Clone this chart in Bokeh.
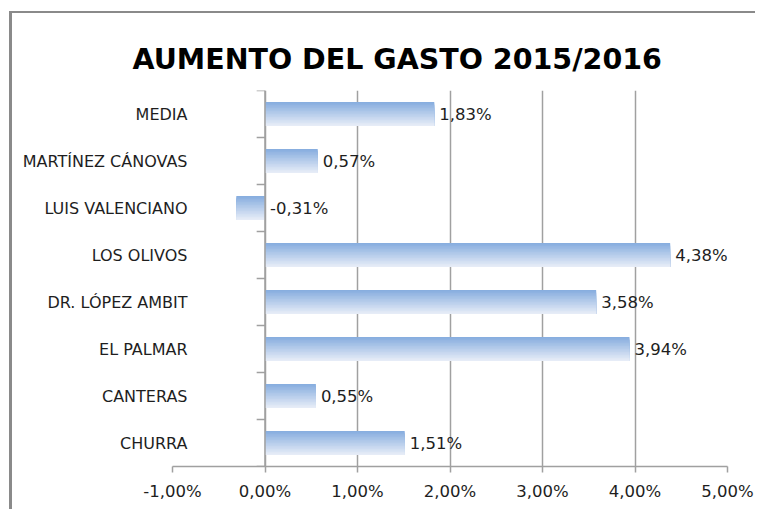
from bokeh.plotting import figure
from bokeh.models import ColumnDataSource, FixedTicker, LabelSet
from bokeh.core.properties import value
from bokeh.embed import file_html
from bokeh.resources import INLINE

# ---- data ----
categories = ["CHURRA", "CANTERAS", "EL PALMAR", "DR. LÓPEZ AMBIT",
              "LOS OLIVOS", "LUIS VALENCIANO", "MARTÍNEZ CÁNOVAS", "MEDIA"]
values = [1.51, 0.55, 3.94, 3.58, 4.38, -0.31, 0.57, 1.83]
value_labels = ["1,51%", "0,55%", "3,94%", "3,58%", "4,38%", "-0,31%", "0,57%", "1,83%"]
x_ticks = [-1, 0, 1, 2, 3, 4, 5]
x_tick_labels = ["-1,00%", "0,00%", "1,00%", "2,00%", "3,00%", "4,00%", "5,00%"]
title_text = "AUMENTO DEL GASTO 2015/2016"

FONT = "DejaVu Sans"
TXT = "#1e1e1e"
GRID = "#a0a0a0"
TOP_C = (0x88, 0xAE, 0xDF)
BOT_C = (0xE6, 0xEC, 0xF7)
N_STRIPS = 16
BAR_H = 0.51

n = len(categories)
ypos = list(range(n))

# gradient: stacked strips, each reaching down to the bar bottom
sy, sh, sr, sc = [], [], [], []
for j in range(N_STRIPS):
    t = j / (N_STRIPS - 1)
    col = "#%02x%02x%02x" % tuple(int(round(a + (b - a) * t)) for a, b in zip(TOP_C, BOT_C))
    hj = BAR_H * (1 - j / N_STRIPS)
    for i, v in enumerate(values):
        bottom = ypos[i] - BAR_H / 2
        sy.append(bottom + hj / 2)
        sh.append(hj)
        sr.append(v)
        sc.append(col)
strips = ColumnDataSource(dict(y=sy, h=sh, right=sr, color=sc))

lab_src = ColumnDataSource(dict(
    x=[max(v, 0) for v in values], y=ypos, text=value_labels))

p = figure(frame_width=555, frame_height=376, output_backend="svg", toolbar_location=None,
           x_range=(x_ticks[0], x_ticks[-1]), y_range=(-0.5, n - 0.5),
           min_border_left=160, min_border_top=77, min_border_right=28,
           min_border_bottom=43)
p.styles = {"border-left": "3px solid #8a8a8a", "border-top": "2px solid #8a8a8a",
            "border-right": "none", "border-bottom": "none",
            "margin-left": "9px", "margin-top": "11px"}

p.title.text = title_text
p.title.text_font = FONT
p.title.text_font_size = "28.5px"
p.title.text_font_style = "bold"
p.title.text_color = "#000000"
p.title.align = "left"
p.title.offset = -40
p.title.standoff = 30

p.outline_line_color = None
p.background_fill_color = "white"
p.border_fill_color = "white"

# bars
p.hbar(y="y", left=0, right="right", height="h",
       fill_color="color", line_color=None, source=strips)

# category axis line and tick marks at x = 0
p.segment(x0=[0], y0=[-0.5], x1=[0], y1=[n - 0.5], line_color=GRID, line_width=1.5)
bounds = [k - 0.5 for k in range(n + 1)]
p.segment(x0=[-0.09] * len(bounds), y0=bounds, x1=[0] * len(bounds), y1=bounds,
          line_color=GRID, line_width=1.5)

labels = LabelSet(x="x", y="y", text="text", source=lab_src, x_offset=5,
                  text_baseline="middle", text_font=value(FONT),
                  text_font_size=value("16.5px"), text_color=value(TXT))
p.add_layout(labels)

# x axis
p.xaxis.ticker = FixedTicker(ticks=x_ticks)
p.xaxis.major_label_overrides = {t: l for t, l in zip(x_ticks, x_tick_labels)}
p.xaxis.axis_line_color = GRID
p.xaxis.axis_line_width = 1.5
p.xaxis.major_tick_line_color = GRID
p.xaxis.major_tick_line_width = 1.5
p.xaxis.major_tick_out = 6
p.xaxis.major_tick_in = 0
p.xaxis.minor_tick_line_color = None
p.xaxis.major_label_text_font = FONT
p.xaxis.major_label_text_font_size = "16.5px"
p.xaxis.major_label_text_color = TXT
p.xaxis.major_label_standoff = 9

p.xgrid.ticker = FixedTicker(ticks=x_ticks)
p.xgrid.grid_line_color = GRID
p.xgrid.grid_line_width = 1.5
p.ygrid.grid_line_color = None

# y axis (category names)
p.yaxis.ticker = FixedTicker(ticks=ypos)
p.yaxis.major_label_overrides = {y: c for y, c in zip(ypos, categories)}
p.yaxis.axis_line_color = None
p.yaxis.major_tick_line_color = None
p.yaxis.minor_tick_line_color = None
p.yaxis.major_tick_out = 0
p.yaxis.major_tick_in = 0
p.yaxis.major_label_standoff = -15
p.yaxis.major_label_text_font = FONT
p.yaxis.major_label_text_font_size = "16px"
p.yaxis.major_label_text_color = TXT

open("out.html", "w").write(file_html(p, INLINE))
